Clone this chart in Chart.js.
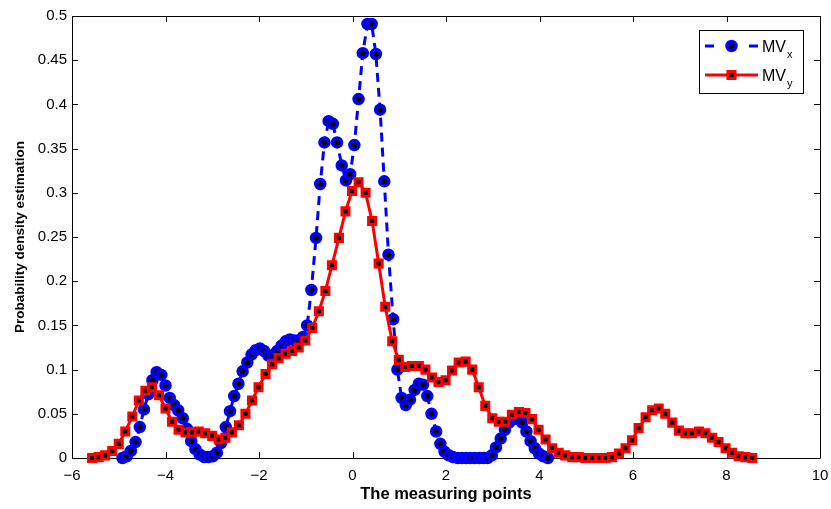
<!DOCTYPE html>
<html>
<head>
<meta charset="utf-8">
<script src="https://cdn.jsdelivr.net/npm/chart.js@4.4.1/dist/chart.umd.min.js"></script>
<style>
html, body { margin: 0; padding: 0; background: #fff; }
#wrap { width: 831px; height: 509px; }
</style>
</head>
<body>
<div id="wrap"><canvas id="chart" width="831" height="509"></canvas></div>
<script>
// measuring points (x) for each estimate
const pointsX = [
    -4.92, -4.83, -4.74, -4.64, -4.55, -4.46, -4.37, -4.28, -4.19, -4.09,
    -4.00, -3.91, -3.82, -3.73, -3.63, -3.54, -3.45, -3.36, -3.27, -3.17,
    -3.08, -2.99, -2.90, -2.81, -2.71, -2.62, -2.53, -2.44, -2.35, -2.25,
    -2.16, -2.07, -1.98, -1.89, -1.80, -1.70, -1.61, -1.52, -1.43, -1.34,
    -1.24, -1.15, -1.06, -0.97, -0.88, -0.78, -0.69, -0.60, -0.51, -0.42,
    -0.33, -0.23, -0.14, -0.05, 0.04, 0.13, 0.22, 0.32, 0.41, 0.50,
    0.59, 0.68, 0.77, 0.87, 0.96, 1.05, 1.14, 1.23, 1.33, 1.42,
    1.51, 1.60, 1.69, 1.79, 1.88, 1.97, 2.06, 2.15, 2.25, 2.34,
    2.43, 2.52, 2.61, 2.71, 2.80, 2.89, 2.98, 3.07, 3.17, 3.26,
    3.35, 3.44, 3.53, 3.63, 3.72, 3.81, 3.90, 3.99, 4.08, 4.18
];
const mvX = [
    0.000, 0.002, 0.008, 0.018, 0.035, 0.055, 0.072, 0.088, 0.097, 0.094,
    0.082, 0.068, 0.060, 0.054, 0.045, 0.033, 0.019, 0.010, 0.004, 0.001,
    0.001, 0.002, 0.006, 0.017, 0.035, 0.053, 0.070, 0.084, 0.098, 0.108,
    0.117, 0.122, 0.124, 0.121, 0.116, 0.116, 0.121, 0.127, 0.132, 0.134,
    0.133, 0.133, 0.137, 0.150, 0.190, 0.249, 0.310, 0.357, 0.381, 0.378,
    0.357, 0.331, 0.314, 0.321, 0.354, 0.406, 0.458, 0.491, 0.491, 0.457,
    0.394, 0.313, 0.230, 0.157, 0.100, 0.068, 0.060, 0.066, 0.077, 0.084,
    0.083, 0.070, 0.050, 0.030, 0.016, 0.007, 0.003, 0.001, 0.000, 0.000,
    0.000, 0.000, 0.000, 0.000, 0.000, 0.000, 0.003, 0.012, 0.022, 0.032,
    0.040, 0.044, 0.044, 0.040, 0.030, 0.019, 0.011, 0.005, 0.002, 0.000
];

const pointsY = [
    -5.57, -5.43, -5.29, -5.14, -5.00, -4.86, -4.71, -4.57, -4.43, -4.29,
    -4.14, -4.00, -3.86, -3.72, -3.57, -3.43, -3.29, -3.15, -3.00, -2.86,
    -2.72, -2.58, -2.43, -2.29, -2.15, -2.01, -1.86, -1.72, -1.58, -1.43,
    -1.29, -1.15, -1.01, -0.86, -0.72, -0.58, -0.44, -0.29, -0.15, -0.01,
    0.13, 0.28, 0.42, 0.56, 0.70, 0.85, 0.99, 1.13, 1.27, 1.42,
    1.56, 1.70, 1.84, 1.99, 2.13, 2.27, 2.42, 2.56, 2.70, 2.84,
    2.99, 3.13, 3.27, 3.41, 3.56, 3.70, 3.84, 3.98, 4.13, 4.27,
    4.41, 4.55, 4.70, 4.84, 4.98, 5.13, 5.27, 5.41, 5.55, 5.70,
    5.84, 5.98, 6.12, 6.27, 6.41, 6.55, 6.69, 6.84, 6.98, 7.12,
    7.26, 7.41, 7.55, 7.69, 7.83, 7.98, 8.12, 8.26, 8.40, 8.55
];
const mvY = [
    0.000, 0.001, 0.003, 0.008, 0.016, 0.030, 0.047, 0.065, 0.076, 0.080,
    0.071, 0.056, 0.041, 0.032, 0.029, 0.029, 0.030, 0.028, 0.025, 0.021,
    0.023, 0.029, 0.037, 0.050, 0.065, 0.080, 0.095, 0.106, 0.113, 0.118,
    0.121, 0.125, 0.133, 0.147, 0.166, 0.189, 0.218, 0.249, 0.279, 0.302,
    0.312, 0.300, 0.268, 0.220, 0.171, 0.132, 0.111, 0.103, 0.104, 0.104,
    0.100, 0.091, 0.086, 0.088, 0.099, 0.108, 0.109, 0.100, 0.080, 0.059,
    0.045, 0.041, 0.041, 0.049, 0.052, 0.051, 0.044, 0.032, 0.021, 0.011,
    0.006, 0.003, 0.001, 0.001, 0.000, 0.000, 0.000, 0.000, 0.001, 0.005,
    0.011, 0.020, 0.034, 0.046, 0.054, 0.056, 0.050, 0.040, 0.031, 0.028,
    0.028, 0.030, 0.028, 0.023, 0.018, 0.011, 0.006, 0.002, 0.001, 0.000
];

const xTickValues = [-6, -4, -2, 0, 2, 4, 6, 8, 10];
const xTickLabels = ["\u22126", "\u22124", "\u22122", "0", "2", "4", "6", "8", "10"];
const yTickValues = [0, 0.05, 0.1, 0.15, 0.2, 0.25, 0.3, 0.35, 0.4, 0.45, 0.5];
const yTickLabels = ["0", "0.05", "0.1", "0.15", "0.2", "0.25", "0.3", "0.35", "0.4", "0.45", "0.5"];

const seriesLabels = ["MV", "MV"];
const seriesSubs = ["x", "y"];

const FONT = "'Liberation Sans', Arial, Helvetica, sans-serif";

// box round the plot with inward tick marks on all four sides
const framePlugin = {
    id: "frame",
    beforeDatasetsDraw(chart) {
        const { ctx, chartArea: a, scales } = chart;
        ctx.save();
        ctx.strokeStyle = "#000";
        ctx.lineWidth = 1;
        ctx.beginPath();
        ctx.rect(a.left + 0.5, a.top + 0.5, a.right - a.left, a.bottom - a.top);
        xTickValues.forEach((v) => {
            const px = Math.round(scales.x.getPixelForValue(v)) + 0.5;
            ctx.moveTo(px, a.bottom);
            ctx.lineTo(px, a.bottom - 6);
            ctx.moveTo(px, a.top);
            ctx.lineTo(px, a.top + 6);
        });
        yTickValues.forEach((v) => {
            const py = Math.round(scales.y.getPixelForValue(v)) + 0.5;
            ctx.moveTo(a.left, py);
            ctx.lineTo(a.left + 6, py);
            ctx.moveTo(a.right, py);
            ctx.lineTo(a.right - 6, py);
        });
        ctx.stroke();
        ctx.restore();
    }
};

// legend with subscripts
const legendPlugin = {
    id: "mvLegend",
    afterDraw(chart) {
        const { ctx, chartArea: a } = chart;
        const bw = 104, bh = 63;
        const bx = a.right - 17 - bw, by = a.top + 14;
        ctx.save();
        ctx.fillStyle = "#fff";
        ctx.fillRect(bx, by, bw, bh);
        ctx.strokeStyle = "#000";
        ctx.lineWidth = 1;
        ctx.strokeRect(bx + 0.5, by + 0.5, bw, bh);

        chart.data.datasets.forEach((ds, i) => {
            const ly = by + 16 + i * 29;
            const x0 = bx + 6, x1 = bx + 59, xm = (x0 + x1) / 2;
            ctx.strokeStyle = ds.borderColor;
            ctx.lineWidth = ds.borderWidth;
            ctx.beginPath();
            if (ds.borderDash && ds.borderDash.length) {
                ctx.moveTo(x0, ly); ctx.lineTo(x0 + 9, ly);
                ctx.moveTo(x1 - 9, ly); ctx.lineTo(x1, ly);
            } else {
                ctx.moveTo(x0, ly); ctx.lineTo(x1, ly);
            }
            ctx.stroke();
            ctx.fillStyle = ds.pointBackgroundColor;
            ctx.strokeStyle = ds.pointBorderColor;
            ctx.lineWidth = ds.pointBorderWidth;
            Chart.helpers.drawPoint(ctx, {
                pointStyle: ds.pointStyle,
                radius: ds.pointRadius,
                borderWidth: ds.pointBorderWidth,
                rotation: 0
            }, xm, ly);

            ctx.fillStyle = "#000";
            ctx.textBaseline = "alphabetic";
            ctx.textAlign = "left";
            ctx.font = "16px " + FONT;
            const tx = bx + 63;
            ctx.fillText(seriesLabels[i], tx, ly + 6);
            const w = ctx.measureText(seriesLabels[i]).width;
            ctx.font = "11px " + FONT;
            ctx.fillText(seriesSubs[i], tx + w + 1, ly + 12);
        });
        ctx.restore();
    }
};

new Chart(document.getElementById("chart"), {
    type: "line",
    data: {
        datasets: [
            {
                label: "MVx",
                data: pointsX.map((x, i) => ({ x, y: mvX[i] })),
                borderColor: "#0000ff",
                borderWidth: 3,
                borderDash: [9, 6],
                pointStyle: "circle",
                pointRadius: 4.5,
                pointBorderWidth: 3.5,
                pointBackgroundColor: "#000",
                pointBorderColor: "#0000ff",
                tension: 0,
                clip: false,
                order: 2
            },
            {
                label: "MVy",
                data: pointsY.map((x, i) => ({ x, y: mvY[i] })),
                borderColor: "#ff0000",
                borderWidth: 3,
                pointStyle: "rect",
                pointRadius: 5,
                pointBorderWidth: 3,
                pointBackgroundColor: "#000",
                pointBorderColor: "#ff0000",
                tension: 0,
                clip: false,
                order: 1
            }
        ]
    },
    options: {
        responsive: false,
        animation: false,
        events: [],
        layout: { padding: { left: 0, right: 11, top: 16, bottom: 0 } },
        plugins: {
            legend: { display: false },
            tooltip: { enabled: false }
        },
        scales: {
            x: {
                type: "linear",
                min: -6,
                max: 10,
                afterBuildTicks: (scale) => { scale.ticks = xTickValues.map((value) => ({ value })); },
                afterFit: (scale) => {
                    scale.height = 51;
                    scale.paddingLeft = 0;
                    scale.paddingRight = 0;
                },
                grid: { display: false, drawTicks: false },
                border: { display: false },
                ticks: {
                    autoSkip: false,
                    maxRotation: 0,
                    padding: 9,
                    color: "#000",
                    font: { family: FONT, size: 15 },
                    callback: (v, i) => xTickLabels[i]
                },
                title: {
                    display: true,
                    text: "The measuring points",
                    color: "#000",
                    font: { family: FONT, size: 16.5, weight: "bold" },
                    padding: { top: 0, bottom: 5 }
                }
            },
            y: {
                type: "linear",
                min: 0,
                max: 0.5,
                afterBuildTicks: (scale) => { scale.ticks = yTickValues.map((value) => ({ value })); },
                afterFit: (scale) => {
                    scale.width = 72;
                    scale.paddingTop = 0;
                    scale.paddingBottom = 0;
                },
                grid: { display: false, drawTicks: false },
                border: { display: false },
                ticks: {
                    autoSkip: false,
                    padding: 5,
                    color: "#000",
                    font: { family: FONT, size: 15 },
                    callback: (v, i) => yTickLabels[i]
                },
                title: {
                    display: true,
                    text: "Probability density estimation",
                    color: "#000",
                    font: { family: FONT, size: 13.5, weight: "bold" },
                    padding: { top: 12, bottom: 0 }
                }
            }
        }
    },
    plugins: [framePlugin, legendPlugin]
});
</script>
</body>
</html>
